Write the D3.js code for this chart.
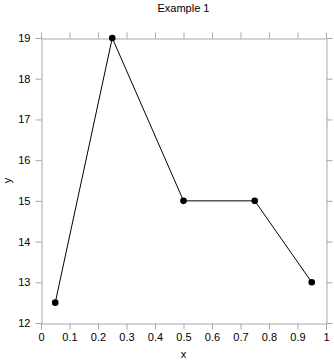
<!DOCTYPE html>
<html><head><meta charset="utf-8">
<script src="https://cdn.jsdelivr.net/npm/d3@7"></script>
<style>
html,body{margin:0;padding:0;background:#fff;}
svg text{font-family:"Liberation Sans",Arial,sans-serif;fill:#000;}
</style></head>
<body>
<svg id="c" width="334" height="364"></svg>
<script>
const xValues = [0.05, 0.25, 0.5, 0.75, 0.95];
const yValues = [12.5, 19, 15, 15, 13];
const xTicks = [0,0.1,0.2,0.3,0.4,0.5,0.6,0.7,0.8,0.9,1];
const yTicks = [12,13,14,15,16,17,18,19];
const title = "Example 1", xLabel = "x", yLabel = "y";

const svg = d3.select("#c");
const L = 41, R = 326, T = 38, B = 323;
const x = d3.scaleLinear().domain([0,1]).range([L,R]);
const y = d3.scaleLinear().domain([12,19]).range([B,T]);
const axisCol = "#a8a8a8";

function style(g, labels){
  g.selectAll("path").attr("stroke", axisCol).attr("stroke-width",1);
  g.selectAll("line").attr("stroke", axisCol).attr("stroke-width",1);
  g.selectAll("text").attr("font-size", 11).attr("fill","#000");
  if(!labels) g.selectAll("text").remove();
}
const fmt = d => String(+d.toFixed(1));
const gb = svg.append("g").attr("transform",`translate(0,${B+0.5})`)
  .call(d3.axisBottom(x).tickValues(xTicks).tickFormat(fmt).tickSize(6).tickSizeOuter(6).tickPadding(4));
style(gb,true);
const gt = svg.append("g").attr("transform",`translate(0,${T+0.5})`)
  .call(d3.axisTop(x).tickValues(xTicks).tickSize(6).tickSizeOuter(0));
style(gt,false);
const gl = svg.append("g").attr("transform",`translate(${L+0.5},0)`)
  .call(d3.axisLeft(y).tickValues(yTicks).tickFormat(fmt).tickSize(6).tickSizeOuter(0).tickPadding(5));
style(gl,true);
const gr = svg.append("g").attr("transform",`translate(${R+0.5},0)`)
  .call(d3.axisRight(y).tickValues(yTicks).tickSize(6).tickSizeOuter(0));
style(gr,false);

const pts = xValues.map((v,i)=>[v,yValues[i]]);
svg.append("path").datum(pts)
  .attr("fill","none").attr("stroke","#000").attr("stroke-width",1)
  .attr("d", d3.line().x(d=>x(d[0])).y(d=>y(d[1])));
svg.selectAll("circle.pt").data(pts).enter().append("circle")
  .attr("cx",d=>x(d[0])).attr("cy",d=>y(d[1])).attr("r",3.3).attr("fill","#000");

svg.append("text").attr("x",(L+R)/2).attr("y",12).attr("text-anchor","middle")
  .attr("font-size",11).text(title);
svg.append("text").attr("x",(L+R)/2).attr("y",358).attr("text-anchor","middle")
  .attr("font-size",11).text(xLabel);
svg.append("text").attr("transform",`translate(11,${(T+B)/2}) rotate(-90)`)
  .attr("text-anchor","middle").attr("font-size",11).text(yLabel);
</script>
</body></html>
